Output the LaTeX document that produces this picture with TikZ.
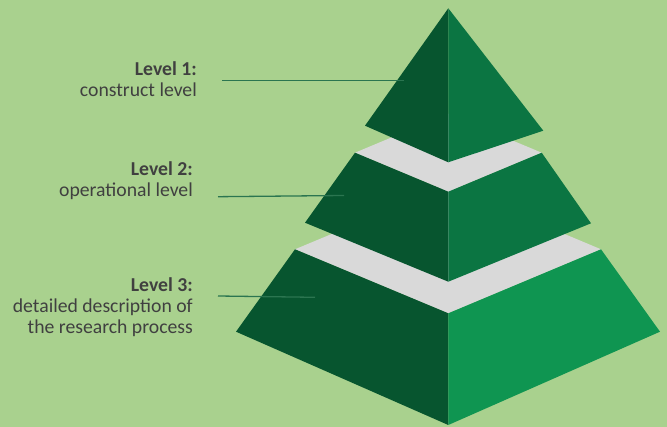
\documentclass[tikz,border=0pt]{standalone}
\usepackage{fontspec}
\setmainfont{Carlito}
\usepackage{xcolor}
\usetikzlibrary{positioning,calc}

\definecolor{bggreen}{HTML}{A9D18E}
\definecolor{darkside}{HTML}{07552F}
\definecolor{midside}{HTML}{0B7542}
\definecolor{lightside}{HTML}{0F9551}
\definecolor{topgrey}{HTML}{D9D9D9}
\definecolor{textgrey}{HTML}{404040}
\definecolor{leadgreen}{HTML}{2B7550}

\begin{document}
\begin{tikzpicture}[x=1pt,y=-1pt,
	leveltext/.style={font=\fontsize{19.7}{21}\selectfont, text=textgrey, align=right, inner sep=0pt},
	leader/.style={draw=leadgreen, line width=1.3pt}]
	\def\mx{448.3}
	% background
	\fill[bggreen] (0,0) rectangle (667,427);
	\useasboundingbox (0,0) rectangle (667,427);
	
	% tier 3
	\fill[topgrey] (295,249.3) -- (\mx,313.3) -- (601,249.3) -- (\mx,185.3) -- cycle;
	\fill[darkside] (295,249.3) -- (\mx,313.3) -- (\mx,425) -- (236,331.7) -- cycle;
	\fill[lightside] (\mx,313.3) -- (601,249.3) -- (660,331.7) -- (\mx,425) -- cycle;
	
	% tier 2
	\fill[topgrey] (355,152.7) -- (\mx,191.7) -- (541.7,152.7) -- (\mx,113.7) -- cycle;
	\fill[darkside] (355,152.7) -- (\mx,191.7) -- (\mx,281.7) -- (305,222.7) -- cycle;
	\fill[midside] (\mx,191.7) -- (541.7,152.7) -- (591,223.3) -- (\mx,281.7) -- cycle;
	
	% tier 1
	\fill[darkside] (\mx,8.3) -- (\mx,162.3) -- (365,125.7) -- cycle;
	\fill[midside] (\mx,8.3) -- (543.3,130.7) -- (\mx,162.3) -- cycle;
	
	% labels (base = last line)
	\node[leveltext, anchor=base east] (lvlone) at (197,96.7) {\textbf{Level 1:}\\construct level};
	\node[leveltext, anchor=base east] (lvltwo) at (193,196.5) {\textbf{Level 2:}\\operational level};
	\node[leveltext, anchor=base east] (lvlthree) at (193,334) {\textbf{Level 3:}\\detailed description of\\the research process};
	
	% leader lines
	\coordinate (onestart) at (222,80.7);
	\coordinate (oneend) at (404,80.7);
	\coordinate (twostart) at (218,196.7);
	\coordinate (twoend) at (344,195.5);
	\coordinate (threestart) at (218,296);
	\coordinate (threeend) at (315,297.3);
	\draw[leader] (onestart) -- (oneend);
	\draw[leader] (twostart) -- (twoend);
	\draw[leader] (threestart) -- (threeend);
\end{tikzpicture}
\end{document}
